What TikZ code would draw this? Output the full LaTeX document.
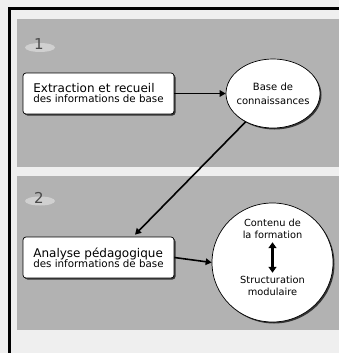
\documentclass[tikz,border=0pt]{standalone}
\usepackage{fontspec}
\setmainfont{DejaVu Sans}
\usetikzlibrary{shapes.geometric,arrows.meta,shadows,calc}
\definecolor{bgcol}{HTML}{EFEFEF}
\definecolor{panelcol}{HTML}{B2B2B2}
\definecolor{numcol}{HTML}{4A4A4A}
\tikzset{
  sh/.style={drop shadow={shadow xshift=1.5pt,shadow yshift=-1.5pt,fill=black,opacity=0.7}},
  boxnode/.style={draw=black,line width=0.7pt,fill=white,rounded corners=3pt,minimum width=151pt,minimum height=41pt,align=left,inner sep=0pt,sh},
  ellnode/.style={draw=black,line width=0.7pt,fill=white,ellipse,inner sep=0pt,sh},
  txt/.style={inner sep=0pt,align=center},
  conn/.style={line width=1.6pt,-{Triangle[length=6pt,width=6.5pt]}},
  numtxt/.style={text=numcol,font=\fontsize{15}{17}\selectfont,inner sep=0pt}
}
\begin{document}
\begin{tikzpicture}[x=1pt,y=-1pt]
\useasboundingbox (0,0) rectangle (339,353);
\fill[bgcol] (0,0) rectangle (339,353);
\fill[black] (8,7.5) rectangle (339,10.5);
\fill[black] (8,7.5) rectangle (11,353);
\fill[panelcol] (17,19) rectangle (339,167);
\fill[panelcol] (17,176) rectangle (339,330);
\fill[white,opacity=0.4] (40,47.5) ellipse (15pt and 4.5pt);
\fill[white,opacity=0.4] (40,201) ellipse (15pt and 4.5pt);
\node[numtxt] (n1) at (39,44) {1};
\node[numtxt] (n2) at (39,197.5) {2};

\node[boxnode] (b1) at (98.5,93.5) {\fontsize{12}{15}\selectfont Extraction et recueil\\[-2pt]{\fontsize{10.3}{13}\selectfont des informations de base}};
\node[ellnode,minimum width=94pt,minimum height=69pt] (e1) at (273,93.5) {};
\node[txt,font=\fontsize{10}{13.5}\selectfont] (e1t) at (273,94) {Base de\\connaissances};

\node[boxnode] (b2) at (98.5,257.5) {\fontsize{12}{15}\selectfont Analyse pédagogique\\[-2pt]{\fontsize{10.3}{13}\selectfont des informations de base}};
\node[ellnode,minimum width=121pt,minimum height=119pt] (c2) at (272.5,262.5) {};
\node[txt,font=\fontsize{9.8}{12.5}\selectfont] (t1) at (272.5,229) {Contenu de\\la formation};
\node[txt,font=\fontsize{9.8}{12.5}\selectfont] (t2) at (272.5,286) {Structuration\\modulaire};

\draw[conn] (b1.east) -- (e1.west);
\draw[conn] (b2.east) -- (c2.west);
\draw[conn] (e1.226) -- ($(b2.north)+(36.5,-2)$);
\draw[line width=3pt,{Triangle[length=6pt,width=8pt]}-{Triangle[length=6pt,width=8pt]}] ($(t1.south)+(0,3)$) -- ($(t2.north)+(0,-3)$);
\end{tikzpicture}
\end{document}
